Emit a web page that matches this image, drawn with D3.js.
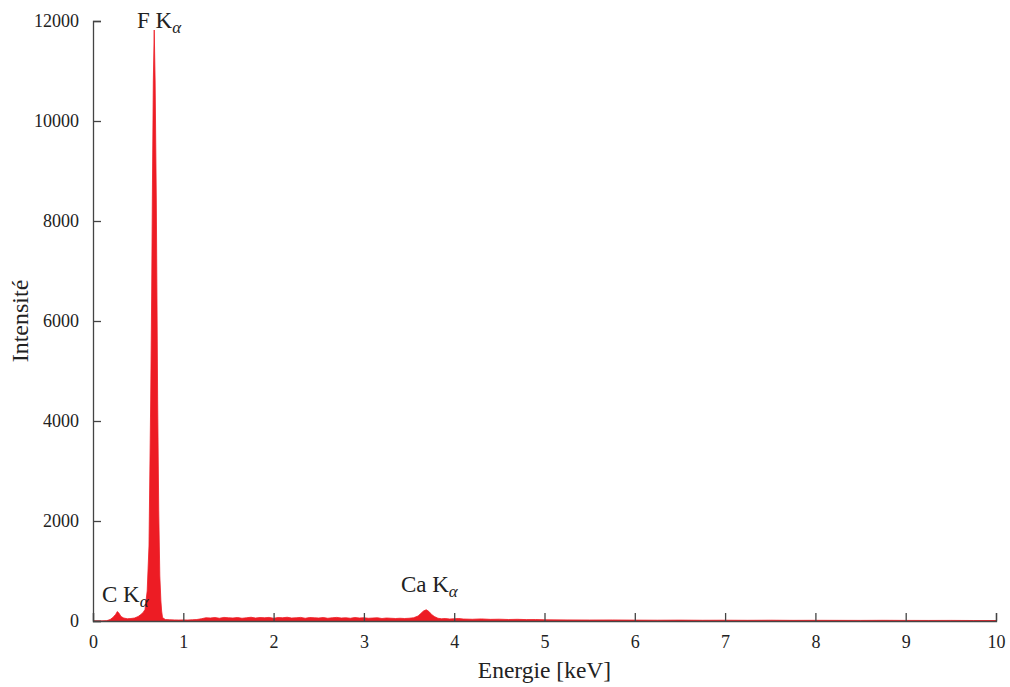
<!DOCTYPE html>
<html>
<head>
<meta charset="utf-8">
<script src="https://cdn.jsdelivr.net/npm/d3@7"></script>
<style>
  html, body { margin: 0; padding: 0; background: #fff; }
  svg { display: block; }
  text { font-family: "Liberation Serif", "DejaVu Serif", serif; fill: #222; }
</style>
</head>
<body>
<svg id="chart" width="1010" height="687"></svg>
<script>
// ---- data ----
const energy = [
  0.00, 0.10, 0.15, 0.19, 0.22, 0.25, 0.27, 0.29, 0.31, 0.34, 0.38, 0.42, 0.46, 0.50, 0.53, 0.555, 0.576,
  0.60, 0.62, 0.639, 0.650, 0.657, 0.668, 0.678, 0.688, 0.701, 0.709, 0.716, 0.728, 0.740, 0.752, 0.760, 0.770, 0.80,
  0.85, 0.90, 0.95, 1.00, 1.05, 1.10, 1.15, 1.20, 1.25, 1.30, 1.35, 1.40, 1.45, 1.50, 1.55, 1.60, 1.65,
  1.70, 1.75, 1.80, 1.85, 1.90, 1.95, 2.00, 2.05, 2.10, 2.15, 2.20, 2.25, 2.30, 2.35, 2.40, 2.45, 2.50,
  2.55, 2.60, 2.65, 2.70, 2.75, 2.80, 2.85, 2.90, 2.95, 3.00, 3.05, 3.10, 3.15, 3.20, 3.25, 3.30, 3.35,
  3.40, 3.45, 3.50, 3.55, 3.60, 3.63, 3.66, 3.69, 3.72, 3.75, 3.78, 3.82, 3.86, 3.90, 3.95, 4.00, 4.05,
  4.10, 4.20, 4.30, 4.40, 4.50, 4.60, 4.70, 4.80, 4.90, 5.00, 5.25, 5.50, 5.75, 6.00, 6.25, 6.50, 6.75,
  7.00, 7.25, 7.50, 7.75, 8.00, 8.25, 8.50, 8.75, 9.00, 9.25, 9.50, 9.75, 10.00
];
const counts = [
  0, 0, 5, 30, 70, 130, 190, 150, 90, 60, 45, 50, 60, 90, 130, 170, 230,
  600, 1500, 4420, 6600, 8420, 10800, 11820, 10800, 8420, 6300, 4420, 2200, 900, 400, 200, 70, 30,
  25, 22, 20, 22, 20, 25, 30, 45, 65, 60, 70, 55, 72, 65, 60, 70, 55,
  65, 75, 60, 70, 65, 72, 55, 70, 65, 75, 60, 65, 72, 55, 70, 65, 60,
  70, 55, 65, 72, 60, 65, 55, 70, 60, 65, 55, 60, 65, 50, 60, 55, 50,
  55, 50, 55, 65, 100, 150, 200, 225, 190, 130, 90, 55, 45, 50, 40, 45, 50,
  40, 35, 42, 33, 36, 30, 34, 28, 30, 25, 22, 20, 21, 18, 16, 18, 15,
  16, 14, 16, 13, 14, 13, 12, 14, 12, 11, 12, 10, 10
];
const xTicks = [0, 1, 2, 3, 4, 5, 6, 7, 8, 9, 10];
const yTicks = [0, 2000, 4000, 6000, 8000, 10000, 12000];
const peakLabels = ["F K", "C K", "Ca K"];
const peakEnergy = [0.487, 0.10, 3.41];
const peakCount = [11860, 380, 580];
const xLabel = "Energie [keV]";
const yLabel = "Intensité";

// ---- layout ----
const margin = { left: 93, top: 21, right: 14, bottom: 66 };
const W = 1010, H = 687;
const iw = W - margin.left - margin.right;
const ih = H - margin.top - margin.bottom;

const svg = d3.select("#chart");
const g = svg.append("g").attr("transform", `translate(${margin.left},${margin.top})`);

const x = d3.scaleLinear().domain([0, 10]).range([0, iw]);
const y = d3.scaleLinear().domain([0, 12000]).range([ih, 0]);

const data = energy.map((e, i) => ({ e, c: counts[i] }));

const area = d3.area()
  .x(d => x(d.e))
  .y0(y(0))
  .y1(d => y(d.c));

g.append("path")
  .datum(data)
  .attr("d", area)
  .attr("fill", "#ed1c24")
  .attr("stroke", "#ed1c24")
  .attr("stroke-width", 0.8);

// axes with inward ticks
const xAxis = g.append("g")
  .attr("transform", `translate(0,${ih})`)
  .call(d3.axisBottom(x).tickValues(xTicks).tickSize(-8).tickPadding(14).tickFormat(d3.format("d")));
const yAxis = g.append("g")
  .call(d3.axisLeft(y).tickValues(yTicks).tickSize(-8).tickPadding(14).tickFormat(d3.format("d")));

[xAxis, yAxis].forEach(a => {
  a.select(".domain").attr("stroke", "#444").attr("stroke-width", 1.3);
  a.selectAll(".tick line").attr("stroke", "#444").attr("stroke-width", 1.3);
  a.selectAll(".tick text")
    .style("font-family", '"Liberation Serif", "DejaVu Serif", serif')
    .style("font-size", "18px").attr("fill", "#222");
});

// axis labels
svg.append("text")
  .attr("x", margin.left + iw / 2)
  .attr("y", 678)
  .attr("text-anchor", "middle")
  .style("font-size", "23.5px")
  .text(xLabel);

svg.append("text")
  .attr("transform", `translate(28,${margin.top + ih / 2}) rotate(-90)`)
  .attr("text-anchor", "middle")
  .style("font-size", "24px")
  .text(yLabel);

// peak annotations
peakLabels.forEach((lab, i) => {
  const t = g.append("text")
    .attr("x", x(peakEnergy[i]))
    .attr("y", y(peakCount[i]))
    .style("font-size", "23px");
  t.append("tspan").text(lab);
  t.append("tspan").attr("dy", 5).style("font-size", "17px").style("font-style", "italic").text("α");
});
</script>
</body>
</html>
